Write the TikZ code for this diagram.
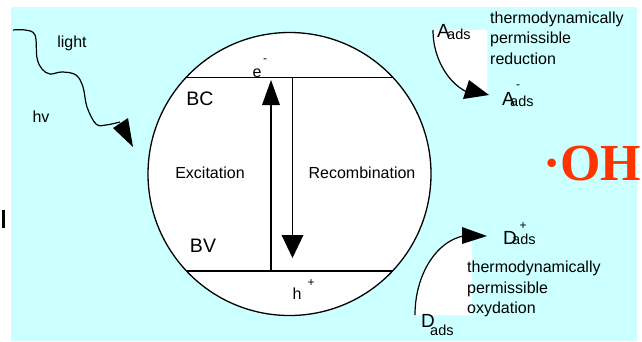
\documentclass[tikz,border=0pt]{standalone}
\usepackage{fontspec}
\setmainfont{Liberation Sans}
\newfontfamily\ohfont{Liberation Serif}
\definecolor{bg}{HTML}{CCFFFF}
\definecolor{ohred}{HTML}{FF3300}
\begin{document}
\begin{tikzpicture}[x=1pt,y=-1pt,
  lbl/.style={inner sep=0pt, font=\fontsize{16}{20.5}\selectfont},
  band/.style={inner sep=0pt, font=\fontsize{19.5}{22}\selectfont},
  big/.style={inner sep=0pt, font=\fontsize{19}{22}\selectfont},
  sub/.style={inner sep=0pt, font=\fontsize{14.5}{16}\selectfont},
  sup/.style={inner sep=0pt, font=\fontsize{12}{14}\selectfont},
  line/.style={line width=1.2pt},
  head/.style={fill=black}]
\useasboundingbox (0,0) rectangle (642,341);
% background
\fill[bg] (11,7) rectangle (637,341);
\fill[black] (2,210) rectangle (4.5,228);

% white pies behind the curved arrows
\fill[white] (433,30) -- (487,30) -- (487,95) .. controls (457.2,95) and (433,65.9) .. cycle;
\fill[white] (415,315) -- (472,315) -- (472,235) .. controls (440.5,235) and (415,270.8) .. cycle;

% particle
\node[circle, draw, fill=white, line width=1.3pt, minimum size=283pt, inner sep=0pt] (cell) at (289.5,174) {};
\coordinate (bcL) at (186,77.5);
\coordinate (bcR) at (393,77.5);
\coordinate (bvL) at (186.5,271);
\coordinate (bvR) at (392.5,271);
\draw[line] (bcL) -- (bcR);
\draw[line] (bvL) -- (bvR);

% excitation arrow
\coordinate (exS) at (271,271);
\coordinate (exT) at (271,80);
\draw[line] (exS) -- (271,100);
\fill[head] (exT) -- (262,105) -- (280,105) -- cycle;
% recombination arrow
\coordinate (reS) at (292.5,77.5);
\coordinate (reT) at (292.5,258);
\draw[line] (reS) -- (292.5,240);
\fill[head] (reT) -- (281.5,235) -- (303.5,235) -- cycle;

% labels in particle
\node[lbl] (ee) at (257,73) {e};
\node[sup] (em) at (265,61) {-};
\node[band] (bc) at (200,99) {BC};
\node[lbl] (exc) at (210,173) {Excitation};
\node[lbl] (rec) at (362,173) {Recombination};
\node[band] (bv) at (203,246) {BV};
\node[lbl] (hh) at (297,294) {h};
\node[sup] (hp) at (311,283) {+};

% light
\node[lbl] (light) at (72,43) {light};
\node[lbl] (hv) at (41,117) {hv};
\coordinate (wS) at (13,30);
\draw[line] plot[smooth, tension=0.6] coordinates {(wS) (25,30) (35,35) (37,58) (42,69) (50,74) (62,72) (76,75) (83,87) (87,107) (96,124) (106,125) (120,122)};
\coordinate (wT) at (133,147);
\fill[head] (wT) -- (113,128) -- (128,118) -- cycle;

% A reduction
\node[big, anchor=base west] (a1) at (437,37) {A};
\node[sub, anchor=base west] (a1s) at (447,39.5) {ads};
\draw[line] (433,30) .. controls (433,65.9) and (457.2,95) .. (480,95);
\fill[head] (489,95) -- (463,99) -- (469,80) -- cycle;
\node[big, anchor=base west] (a2) at (502,105) {A};
\node[sub, anchor=base west] (a2s) at (510,106) {ads};
\node[sup] (a2m) at (518,87) {-};
\node[lbl, anchor=north west, align=left] (redtxt) at (490,11.5) {thermodynamically\\permissible\\reduction};

% D oxydation
\node[big, anchor=base west] (d1) at (421,327) {D};
\node[sub, anchor=base west] (d1s) at (430,335) {ads};
\draw[line] (415,315) .. controls (415,270.8) and (440.5,235) .. (472,235);
\fill[head] (487,236) -- (462,227) -- (462,244) -- cycle;
\node[big, anchor=base west] (d2) at (503,244) {D};
\node[sub, anchor=base west] (d2s) at (512,244) {ads};
\node[sup] (d2p) at (523,226) {+};
\node[lbl, anchor=north west, align=left] (oxtxt) at (467,261) {thermodynamically\\permissible\\oxydation};

% OH radical
\node[inner sep=0pt, text=ohred, font=\ohfont\bfseries\fontsize{52}{56}\selectfont, anchor=base west] (oh) at (543,180) {·OH};
\end{tikzpicture}
\end{document}
